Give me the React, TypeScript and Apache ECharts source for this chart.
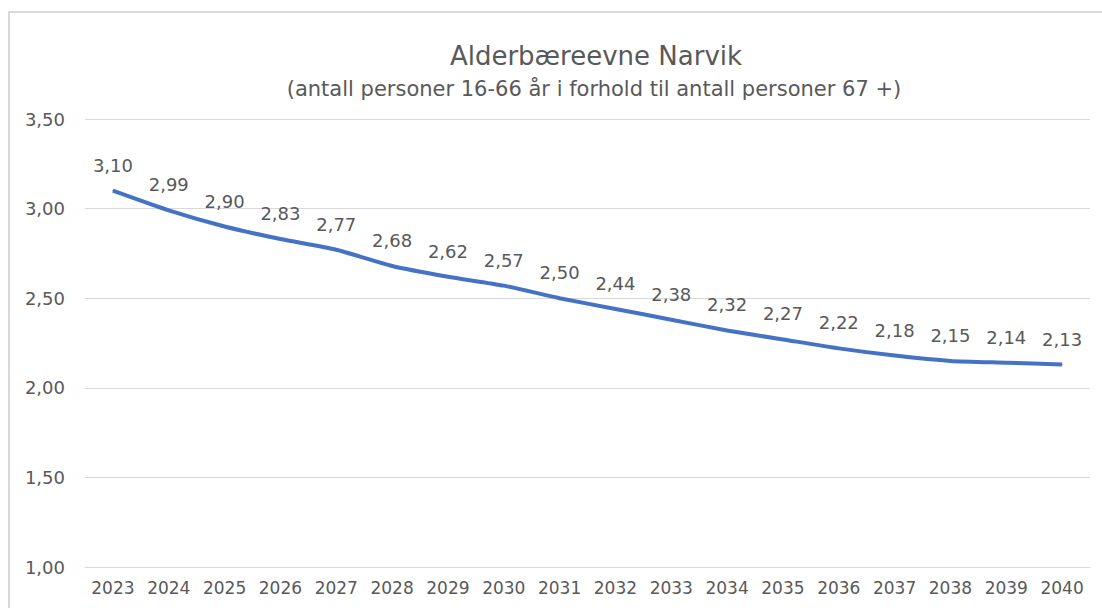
import React, { useEffect, useRef } from "react";
import * as echarts from "echarts";

const years = ["2023","2024","2025","2026","2027","2028","2029","2030","2031","2032","2033","2034","2035","2036","2037","2038","2039","2040"];
const values = [3.10, 2.99, 2.90, 2.83, 2.77, 2.68, 2.62, 2.57, 2.50, 2.44, 2.38, 2.32, 2.27, 2.22, 2.18, 2.15, 2.14, 2.13];
const titleText = "Alderbæreevne Narvik";
const subtitleText = "(antall personer 16-66 år i forhold til antall personer 67 +)";

const fmt = (v: number) => v.toFixed(2).replace(".", ",");
const FONT = "DejaVu Sans";
const TEXT = "#595959";

export default function App() {
  const ref = useRef<HTMLDivElement>(null);
  useEffect(() => {
    if (!ref.current) return;
    const chart = echarts.init(ref.current, null, { renderer: "svg" });
    chart.setOption({
      animation: false,
      backgroundColor: "#ffffff",
      graphic: [
        {
          type: "rect",
          shape: { x: 9, y: 12, width: 1200, height: 700 },
          style: { fill: "none", stroke: "#d9d9d9", lineWidth: 2 },
          silent: true,
        },
        {
          type: "text",
          x: 596,
          y: 56,
          style: {
            text: titleText,
            fill: TEXT,
            font: `26px "${FONT}"`,
            align: "center",
            verticalAlign: "middle",
          },
        },
        {
          type: "text",
          x: 594,
          y: 89,
          style: {
            text: subtitleText,
            fill: TEXT,
            font: `21px "${FONT}"`,
            align: "center",
            verticalAlign: "middle",
          },
        },
      ],
      grid: { left: 85, right: 12, top: 119, bottom: 41, containLabel: false },
      xAxis: {
        type: "category",
        data: years,
        boundaryGap: true,
        axisLine: { show: true, lineStyle: { color: "#d9d9d9", width: 1 } },
        axisTick: { show: false },
        axisLabel: { color: TEXT, fontFamily: FONT, fontSize: 17, margin: 12, interval: 0 },
      },
      yAxis: {
        type: "value",
        min: 1,
        max: 3.5,
        interval: 0.5,
        axisLine: { show: false },
        axisTick: { show: false },
        splitLine: { lineStyle: { color: "#d9d9d9", width: 1 } },
        axisLabel: { color: TEXT, fontFamily: FONT, fontSize: 18, margin: 20, formatter: (v: number) => fmt(v) },
      },
      series: [
        {
          type: "line",
          data: values,
          smooth: 0.2,
          symbol: "circle",
          symbolSize: 1,
          showSymbol: true,
          itemStyle: { color: "#4472C4" },
          lineStyle: { color: "#4472C4", width: 4 },
          label: {
            show: true,
            position: "top",
            distance: 16,
            color: TEXT,
            fontFamily: FONT,
            fontSize: 18,
            formatter: (p: any) => fmt(p.value),
          },
        },
      ],
    });
    return () => chart.dispose();
  }, []);
  return (
    <div
      ref={ref}
      style={{ position: "absolute", left: 0, top: 0, width: 1102, height: 608 }}
    />
  );
}
